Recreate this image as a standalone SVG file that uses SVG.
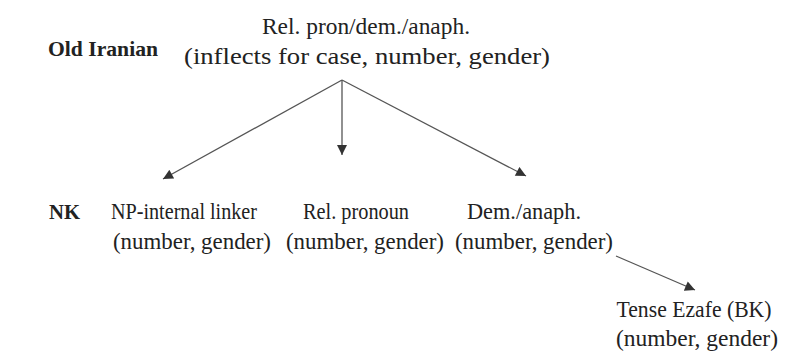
<svg xmlns="http://www.w3.org/2000/svg" width="801" height="352" viewBox="0 0 801 352">
<style>
.c line{stroke:#555;stroke-width:1.3}
</style>
<defs>
<marker id="ah" viewBox="0 0 10 10" refX="10" refY="5" markerWidth="11" markerHeight="10" markerUnits="userSpaceOnUse" orient="auto">
<path d="M0,0L10,5L0,10z" fill="#333"/>
</marker>
</defs>
<rect width="801" height="352" fill="#fff"/>
<g font-family="'Liberation Serif', 'Times New Roman', serif" font-size="23" fill="#222" text-anchor="middle">
<g id="label-old"><text font-weight="bold" text-anchor="start" font-size="22" x="48" y="56" textLength="110" lengthAdjust="spacingAndGlyphs">Old Iranian</text></g>
<g id="label-nk"><text font-weight="bold" text-anchor="start" font-size="22" x="49" y="219" textLength="31" lengthAdjust="spacingAndGlyphs">NK</text></g>
<g id="root"><text x="366" y="34" textLength="208" lengthAdjust="spacingAndGlyphs">Rel. pron/dem./anaph.</text><text x="367" y="64" textLength="366" lengthAdjust="spacingAndGlyphs">(inflects for case, number, gender)</text></g>
<g id="np"><text x="184" y="219" textLength="146" lengthAdjust="spacingAndGlyphs">NP-internal linker</text><text x="192" y="249" textLength="158" lengthAdjust="spacingAndGlyphs">(number, gender)</text></g>
<g id="rel"><text x="356" y="219" textLength="106" lengthAdjust="spacingAndGlyphs">Rel. pronoun</text><text x="365" y="249" textLength="158" lengthAdjust="spacingAndGlyphs">(number, gender)</text></g>
<g id="dem"><text x="524" y="219" textLength="114" lengthAdjust="spacingAndGlyphs">Dem./anaph.</text><text x="534" y="249" textLength="158" lengthAdjust="spacingAndGlyphs">(number, gender)</text></g>
<g id="tense"><text x="694" y="317" textLength="155" lengthAdjust="spacingAndGlyphs">Tense Ezafe (BK)</text><text x="697" y="346" textLength="162" lengthAdjust="spacingAndGlyphs">(number, gender)</text></g>
</g>
<g class="c" id="connectors">
<line x1="342" y1="80" x2="163" y2="179" marker-end="url(#ah)"/>
<line x1="342" y1="80" x2="342" y2="155" marker-end="url(#ah)"/>
<line x1="342" y1="80" x2="526" y2="176" marker-end="url(#ah)"/>
<line x1="616" y1="256" x2="695" y2="290" marker-end="url(#ah)"/>
</g>
</svg>
